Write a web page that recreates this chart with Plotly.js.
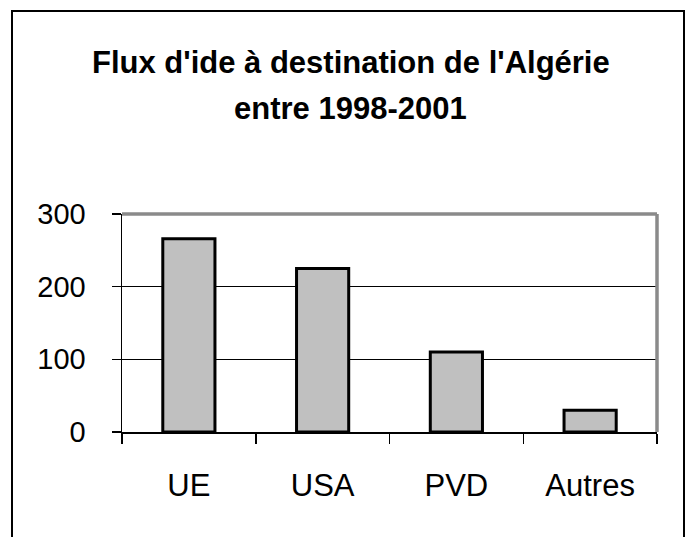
<!DOCTYPE html>
<html>
<head>
<meta charset="utf-8">
<script src="https://cdn.plot.ly/plotly-3.0.1.min.js"></script>
<style>
  html, body { margin:0; padding:0; background:#fff; overflow:hidden; width:688px; height:537px; }
  #frame { position:absolute; left:11px; top:10px; width:670px; height:600px; border:2px solid #000; pointer-events:none; }
  #chart { position:absolute; left:0; top:0; width:688px; height:537px; }
</style>
</head>
<body>
<div id="chart"></div>
<div id="frame"></div>
<script>
const titleLine1 = "Flux d'ide à destination de l'Algérie";
const titleLine2 = "entre 1998-2001";
const categories = ["UE", "USA", "PVD", "Autres"];
const values = [266, 225, 110, 30];
const yTickVals = [0, 100, 200, 300];
const yTickText = ["0", "100", "200", "300"];

const FONT = "Liberation Sans, Arial, sans-serif";

const data = [{
  type: "bar",
  x: categories,
  y: values,
  marker: { color: "#c0c0c0", line: { color: "#000", width: 3 } },
  hoverinfo: "x+y"
}];

const layout = {
  width: 688, height: 537,
  margin: { l: 122, r: 31, t: 214, b: 105, pad: 0 },
  paper_bgcolor: "rgba(0,0,0,0)",
  plot_bgcolor: "#fff",
  showlegend: false,
  bargap: 0.61,
  font: { family: FONT, color: "#000" },
  title: {
    text: titleLine1,
    font: { family: FONT, size: 31, color: "#000", weight: "bold" },
    xref: "container", x: 0.51, xanchor: "center",
    yref: "container", y: 1 - 62/537, yanchor: "middle"
  },
  annotations: [{
    text: titleLine2,
    font: { family: FONT, size: 31, color: "#000", weight: "bold" },
    xref: "paper", x: (350 - 122) / 535, xanchor: "center",
    yref: "paper", y: (432 - 108) / 218, yanchor: "middle",
    showarrow: false
  }],
  xaxis: {
    type: "category",
    showline: true, linecolor: "#000", linewidth: 2,
    ticks: "outside", tickson: "boundaries", ticklen: 10, tickwidth: 1.5, tickcolor: "#000",
    tickfont: { family: FONT, size: 31, color: "#000" },
    ticklabelstandoff: 25,
    showgrid: false, zeroline: false,
    fixedrange: true
  },
  yaxis: {
    range: [0, 300],
    tickvals: yTickVals, ticktext: yTickText,
    showline: true, linecolor: "#000", linewidth: 1.5,
    ticks: "outside", ticklen: 9, tickwidth: 1.5, tickcolor: "#000",
    tickfont: { family: FONT, size: 29, color: "#000" },
    ticklabelstandoff: 20,
    showgrid: true, gridcolor: "#000", gridwidth: 1,
    zeroline: false,
    fixedrange: true
  },
  shapes: [
    { type: "line", xref: "paper", yref: "paper", x0: 0, x1: 1, y0: 1, y1: 1,
      line: { color: "#8a8a8a", width: 3.5 } },
    { type: "line", xref: "paper", yref: "paper", x0: 1, x1: 1, y0: 0, y1: 1,
      line: { color: "#8a8a8a", width: 3.5 } }
  ]
};

Plotly.newPlot("chart", data, layout, { displayModeBar: false, staticPlot: true });
</script>
</body>
</html>
